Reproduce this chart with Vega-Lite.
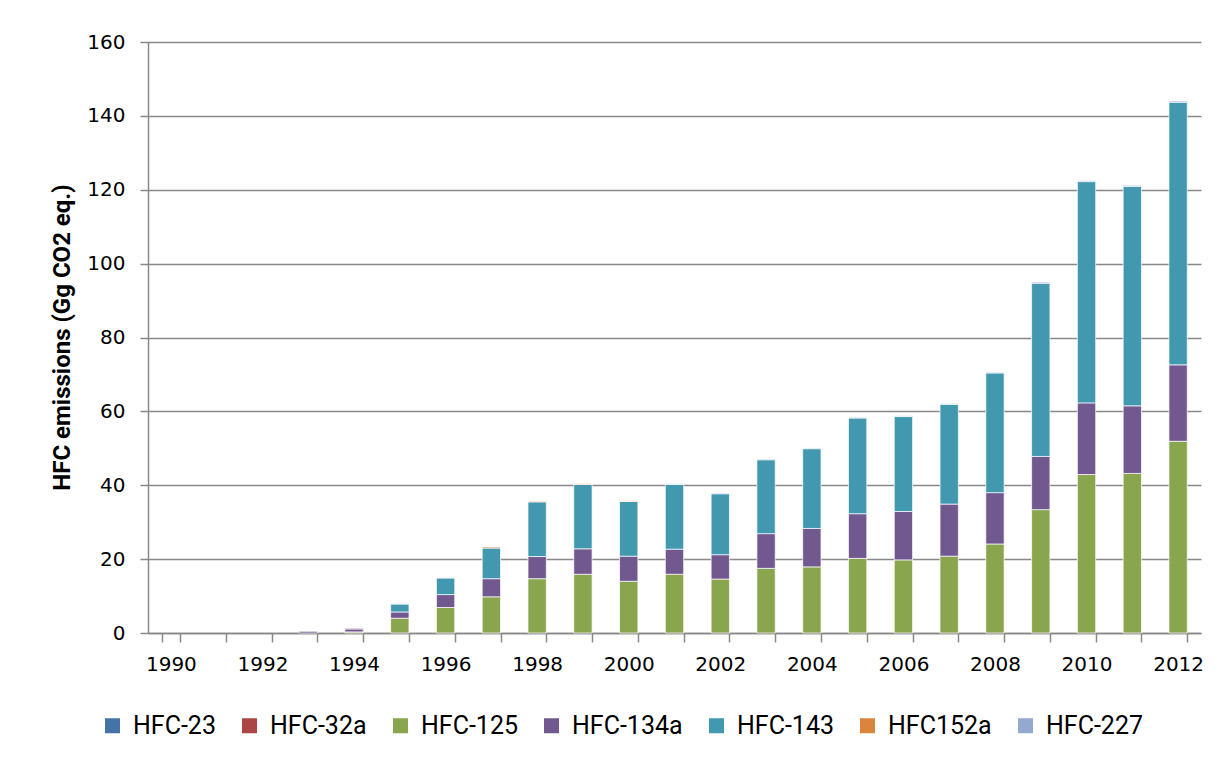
{
  "$schema": "https://vega.github.io/schema/vega-lite/v6.json",
  "width": 1053,
  "height": 591,
  "autosize": {"type": "none"},
  "padding": {"left": 148, "top": 42, "right": 19, "bottom": 125},
  "background": "#ffffff",
  "data": {
    "values": [
      {"year": "1993", "gas": "HFC-134a", "value": 0.45},
      {"year": "1994", "gas": "HFC-125", "value": 0.3},
      {"year": "1994", "gas": "HFC-134a", "value": 0.8},
      {"year": "1994", "gas": "HFC-32a", "value": 0.2},
      {"year": "1995", "gas": "HFC-125", "value": 4.0},
      {"year": "1995", "gas": "HFC-134a", "value": 1.7},
      {"year": "1995", "gas": "HFC-143", "value": 2.15},
      {"year": "1995", "gas": "HFC-227", "value": 0.1},
      {"year": "1996", "gas": "HFC-125", "value": 6.9},
      {"year": "1996", "gas": "HFC-134a", "value": 3.5},
      {"year": "1996", "gas": "HFC-143", "value": 4.5},
      {"year": "1996", "gas": "HFC-227", "value": 0.1},
      {"year": "1997", "gas": "HFC-125", "value": 9.8},
      {"year": "1997", "gas": "HFC-134a", "value": 4.9},
      {"year": "1997", "gas": "HFC-143", "value": 8.3},
      {"year": "1997", "gas": "HFC152a", "value": 0.3},
      {"year": "1998", "gas": "HFC-125", "value": 14.7},
      {"year": "1998", "gas": "HFC-134a", "value": 6.0},
      {"year": "1998", "gas": "HFC-143", "value": 14.8},
      {"year": "1998", "gas": "HFC152a", "value": 0.2},
      {"year": "1999", "gas": "HFC-125", "value": 15.9},
      {"year": "1999", "gas": "HFC-134a", "value": 6.9},
      {"year": "1999", "gas": "HFC-143", "value": 17.4},
      {"year": "1999", "gas": "HFC152a", "value": 0.2},
      {"year": "2000", "gas": "HFC-125", "value": 14.0},
      {"year": "2000", "gas": "HFC-134a", "value": 6.8},
      {"year": "2000", "gas": "HFC-143", "value": 14.8},
      {"year": "2000", "gas": "HFC152a", "value": 0.2},
      {"year": "2001", "gas": "HFC-125", "value": 15.9},
      {"year": "2001", "gas": "HFC-134a", "value": 6.8},
      {"year": "2001", "gas": "HFC-143", "value": 17.5},
      {"year": "2001", "gas": "HFC-227", "value": 0.2},
      {"year": "2002", "gas": "HFC-125", "value": 14.6},
      {"year": "2002", "gas": "HFC-134a", "value": 6.6},
      {"year": "2002", "gas": "HFC-143", "value": 16.5},
      {"year": "2002", "gas": "HFC-227", "value": 0.2},
      {"year": "2003", "gas": "HFC-125", "value": 17.5},
      {"year": "2003", "gas": "HFC-134a", "value": 9.4},
      {"year": "2003", "gas": "HFC-143", "value": 20.0},
      {"year": "2003", "gas": "HFC-227", "value": 0.2},
      {"year": "2004", "gas": "HFC-125", "value": 17.9},
      {"year": "2004", "gas": "HFC-134a", "value": 10.4},
      {"year": "2004", "gas": "HFC-143", "value": 21.6},
      {"year": "2004", "gas": "HFC-227", "value": 0.2},
      {"year": "2005", "gas": "HFC-125", "value": 20.2},
      {"year": "2005", "gas": "HFC-134a", "value": 12.1},
      {"year": "2005", "gas": "HFC-143", "value": 25.9},
      {"year": "2005", "gas": "HFC-227", "value": 0.2},
      {"year": "2006", "gas": "HFC-125", "value": 19.8},
      {"year": "2006", "gas": "HFC-134a", "value": 13.1},
      {"year": "2006", "gas": "HFC-143", "value": 25.7},
      {"year": "2006", "gas": "HFC-227", "value": 0.2},
      {"year": "2007", "gas": "HFC-125", "value": 20.8},
      {"year": "2007", "gas": "HFC-134a", "value": 14.1},
      {"year": "2007", "gas": "HFC-143", "value": 27.0},
      {"year": "2007", "gas": "HFC-227", "value": 0.2},
      {"year": "2008", "gas": "HFC-125", "value": 24.1},
      {"year": "2008", "gas": "HFC-134a", "value": 13.9},
      {"year": "2008", "gas": "HFC-143", "value": 32.4},
      {"year": "2008", "gas": "HFC-227", "value": 0.2},
      {"year": "2009", "gas": "HFC-125", "value": 33.4},
      {"year": "2009", "gas": "HFC-134a", "value": 14.4},
      {"year": "2009", "gas": "HFC-143", "value": 46.9},
      {"year": "2009", "gas": "HFC-227", "value": 0.3},
      {"year": "2010", "gas": "HFC-125", "value": 42.9},
      {"year": "2010", "gas": "HFC-134a", "value": 19.4},
      {"year": "2010", "gas": "HFC-143", "value": 59.9},
      {"year": "2010", "gas": "HFC-227", "value": 0.3},
      {"year": "2011", "gas": "HFC-125", "value": 43.2},
      {"year": "2011", "gas": "HFC-134a", "value": 18.3},
      {"year": "2011", "gas": "HFC-143", "value": 59.4},
      {"year": "2011", "gas": "HFC-227", "value": 0.3},
      {"year": "2012", "gas": "HFC-125", "value": 51.9},
      {"year": "2012", "gas": "HFC-134a", "value": 20.7},
      {"year": "2012", "gas": "HFC-143", "value": 71.1},
      {"year": "2012", "gas": "HFC-227", "value": 0.3}
    ]
  },
  "mark": {"type": "bar", "stroke": "#ffffff", "strokeWidth": 1, "strokeOpacity": 0.7},
  "encoding": {
    "x": {
      "field": "year",
      "type": "ordinal",
      "scale": {
        "domain": ["1990", "1991", "1992", "1993", "1994", "1995", "1996", "1997", "1998", "1999", "2000", "2001", "2002", "2003", "2004", "2005", "2006", "2007", "2008", "2009", "2010", "2011", "2012"],
        "paddingInner": 0.6,
        "paddingOuter": 0.3
      },
      "axis": {
        "title": null,
        "labelAngle": 0,
        "tickBand": "extent",
        "labelExpr": "parseInt(datum.value) % 2 == 0 ? datum.value : ''",
        "labelFont": "DejaVu Sans",
        "labelFontSize": 20,
        "labelColor": "#000000",
        "labelPadding": 12,
        "tickSize": 9,
        "tickColor": "#888888",
        "tickWidth": 1.5,
        "domainColor": "#888888",
        "domainWidth": 1.5,
        "grid": false
      }
    },
    "y": {
      "field": "value",
      "type": "quantitative",
      "aggregate": "sum",
      "stack": "zero",
      "scale": {"domain": [0, 160], "nice": false},
      "axis": {
        "values": [0, 20, 40, 60, 80, 100, 120, 140, 160],
        "title": "HFC emissions (Gg CO2 eq.)",
        "titleFont": "Roboto",
        "titleFontSize": 24,
        "titleFontWeight": "bold",
        "titleColor": "#000000",
        "titleX": -86,
        "titleY": 295,
        "titleAngle": -90,
        "titleAlign": "center",
        "titleBaseline": "middle",
        "labelFont": "DejaVu Sans",
        "labelFontSize": 20,
        "labelColor": "#000000",
        "labelPadding": 15,
        "tickSize": 8,
        "tickColor": "#888888",
        "tickWidth": 1.5,
        "domainColor": "#888888",
        "domainWidth": 1.5,
        "grid": true,
        "gridColor": "#888888",
        "gridWidth": 1.5
      }
    },
    "color": {
      "field": "gas",
      "type": "nominal",
      "scale": {
        "domain": ["HFC-23", "HFC-32a", "HFC-125", "HFC-134a", "HFC-143", "HFC152a", "HFC-227"],
        "range": ["#4572A7", "#AA4643", "#89A54E", "#71588F", "#4198AF", "#DB843D", "#93A9CF"]
      },
      "legend": {
        "title": null,
        "orient": "none",
        "direction": "horizontal",
        "columns": 7,
        "legendX": -48,
        "legendY": 671,
        "symbolType": "square",
        "symbolSize": 225,
        "symbolStrokeWidth": 0,
        "symbolOpacity": 1,
        "labelFont": "Roboto",
        "labelFontSize": 25,
        "labelColor": "#000000",
        "labelOffset": 8,
        "columnPadding": 21,
        "labelLimit": 300
      }
    },
    "order": {"field": "gas", "sort": "ascending"}
  },
  "config": {
    "view": {"stroke": null}
  }
}
